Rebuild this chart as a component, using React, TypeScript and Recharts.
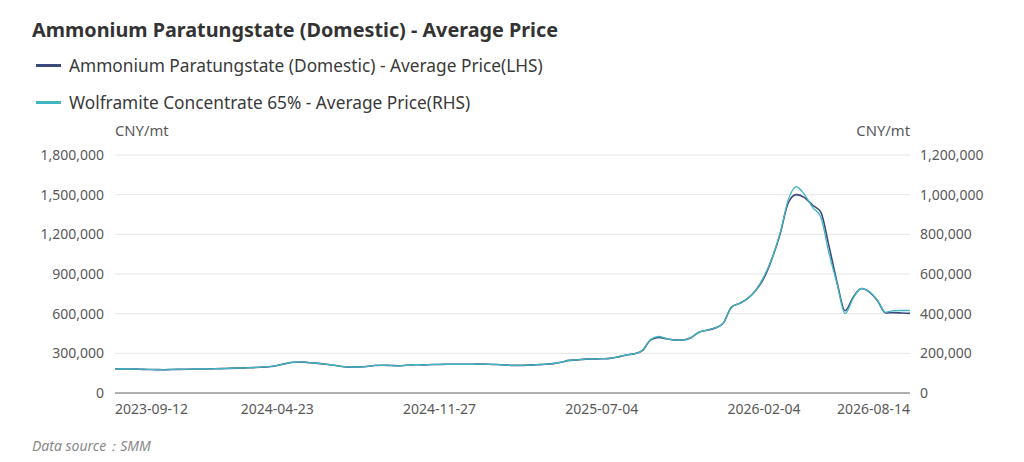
import React from 'react'
import { LineChart, Line, XAxis, YAxis, CartesianGrid } from 'recharts'

const tickIndex = [0, 20, 40, 60, 80, 98]
const tickLabels = ['2023-09-12', '2024-04-23', '2024-11-27', '2025-07-04', '2026-02-04', '2026-08-14']

// Ammonium Paratungstate (Domestic), CNY/mt, left axis
const aptPrice = [
  183000, 182000, 181000, 180000, 178000, 177000, 176000, 178000, 179000, 180000,
  181000, 182000, 183000, 184000, 186000, 188000, 190000, 192000, 195000, 199000,
  208000, 222000, 233000, 235000, 229000, 224000, 218000, 210000, 200000, 196000,
  197000, 200000, 208000, 210000, 208000, 206000, 210000, 214000, 213000, 215000,
  216000, 217000, 217000, 218000, 218000, 219000, 218000, 216000, 212000, 209000,
  209000, 211000, 214000, 217000, 222000, 232000, 247000, 250000, 256000, 258000,
  259000, 262000, 272000, 288000, 296000, 320000, 400000, 421000, 410000, 400000,
  401000, 418000, 460000, 475000, 492000, 530000, 650000, 678000, 715000, 778000,
  870000, 1018000, 1205000, 1440000, 1500000, 1478000, 1420000, 1368000, 1115000, 840000,
  622000, 725000, 790000, 763000, 697000, 605000, 608000, 605000, 602000,
]

// Wolframite Concentrate 65%, CNY/mt, right axis
const wolframitePrice = [
  122000, 121000, 121000, 120000, 119000, 118000, 117000, 119000, 119000, 120000,
  121000, 121000, 122000, 123000, 124000, 125000, 127000, 128000, 130000, 133000,
  139000, 148000, 155000, 157000, 153000, 149000, 145000, 140000, 133000, 131000,
  131000, 133000, 139000, 140000, 139000, 137000, 140000, 143000, 142000, 143000,
  144000, 145000, 145000, 145000, 145000, 146000, 145000, 144000, 141000, 139000,
  139000, 141000, 143000, 145000, 148000, 155000, 165000, 167000, 171000, 172000,
  173000, 175000, 182000, 192000, 197000, 214000, 268000, 285000, 274000, 267000,
  267000, 279000, 307000, 317000, 328000, 353000, 433000, 452000, 477000, 519000,
  587000, 680000, 807000, 975000, 1040000, 1000000, 936000, 887000, 707000, 553000,
  400000, 478000, 527000, 510000, 467000, 407000, 415000, 416000, 416000,
]

const data = aptPrice.map((apt, i) => ({ idx: i, apt, wolf: wolframitePrice[i] }))

const leftTicks = [0, 300000, 600000, 900000, 1200000, 1500000, 1800000]
const rightTicks = [0, 200000, 400000, 600000, 800000, 1000000, 1200000]

const font = '"Noto Sans", "Open Sans", sans-serif'
const fmt = (v: number) => v.toLocaleString('en-US')

function DateTick(props: any) {
  const { x, y, payload } = props
  const pos = tickIndex.indexOf(payload.value)
  const anchor = pos === 0 ? 'start' : pos === tickIndex.length - 1 ? 'end' : 'middle'
  return (
    <text x={x} y={y} dy="0.71em" textAnchor={anchor} fill="#595959" fontSize={14} fontFamily={font}>
      {tickLabels[pos]}
    </text>
  )
}

export default function App() {
  return (
    <div style={{ position: 'absolute', left: 0, top: 0, width: 1024, height: 462, background: '#fff', fontFamily: font }}>
      <div style={{ position: 'absolute', left: 32, top: 16, fontSize: 19.8, lineHeight: '27px', fontWeight: 700, color: '#333' }}>
        Ammonium Paratungstate (Domestic) - Average Price
      </div>
      <div style={{ position: 'absolute', left: 36, top: 54, height: 22, display: 'flex', alignItems: 'center', fontSize: 17.3, color: '#3a3a3a' }}>
        <span style={{ display: 'inline-block', width: 25, height: 3, background: '#3b4a7b', marginRight: 8 }} />
        Ammonium Paratungstate (Domestic) - Average Price(LHS)
      </div>
      <div style={{ position: 'absolute', left: 36, top: 91, height: 22, display: 'flex', alignItems: 'center', fontSize: 17.3, color: '#3a3a3a' }}>
        <span style={{ display: 'inline-block', width: 25, height: 3, background: '#41b6c3', marginRight: 8 }} />
        Wolframite Concentrate 65% - Average Price(RHS)
      </div>
      <div style={{ position: 'absolute', left: 115, top: 120, fontSize: 14.8, lineHeight: '20px', color: '#595959' }}>CNY/mt</div>
      <div style={{ position: 'absolute', right: 1024 - 910, top: 120, fontSize: 14.8, lineHeight: '20px', color: '#595959' }}>CNY/mt</div>
      <div style={{ position: 'absolute', left: 32, top: 436, fontSize: 14, lineHeight: '20px', fontStyle: 'italic', color: '#8a8a8a' }}>
        Data source：SMM
      </div>
      <div style={{ position: 'absolute', left: 0, top: 0 }}>
        <LineChart width={1024} height={462} data={data} margin={{ top: 155, right: 54, bottom: 39, left: 55 }}>
          <CartesianGrid yAxisId="left" vertical={false} stroke="#e6e6e6" />
          <XAxis
            dataKey="idx"
            type="number"
            domain={[0, 98]}
            ticks={tickIndex}
            interval={0}
            height={30}
            tick={<DateTick />}
            tickLine={false}
            tickSize={0}
            tickMargin={11}
            axisLine={{ stroke: '#6e6e6e' }}
          />
          <YAxis
            yAxisId="left"
            domain={[0, 1800000]}
            ticks={leftTicks}
            width={60}
            tickFormatter={fmt}
            tickLine={false}
            axisLine={false}
            tickSize={0}
            tickMargin={11}
            tick={{ fill: '#595959', fontSize: 14, fontFamily: font }}
          />
          <YAxis
            yAxisId="right"
            orientation="right"
            domain={[0, 1200000]}
            ticks={rightTicks}
            width={60}
            tickFormatter={fmt}
            tickLine={false}
            axisLine={false}
            tickSize={0}
            tickMargin={10}
            tick={{ fill: '#595959', fontSize: 14, fontFamily: font, textAnchor: 'start' }}
          />
          <Line yAxisId="left" dataKey="apt" type="monotone" stroke="#3b4a7b" strokeWidth={1.6} dot={false} isAnimationActive={false} />
          <Line yAxisId="right" dataKey="wolf" type="monotone" stroke="#41b6c3" strokeWidth={1.3} dot={false} isAnimationActive={false} />
        </LineChart>
      </div>
    </div>
  )
}
